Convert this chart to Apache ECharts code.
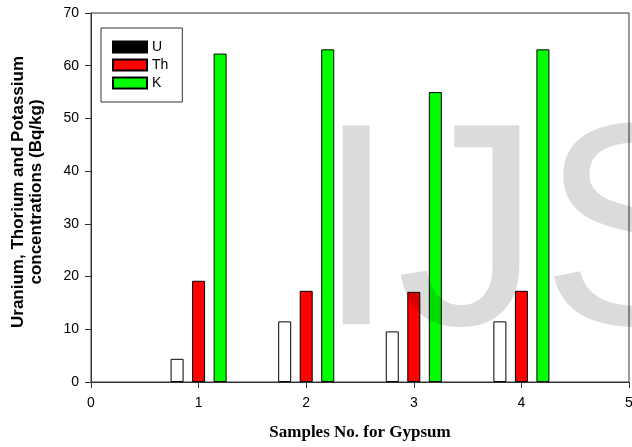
<!DOCTYPE html>
<html><head><meta charset="utf-8">
<script src="https://cdn.jsdelivr.net/npm/echarts@6/dist/echarts.min.js"></script>
<style>html,body{margin:0;padding:0;background:#fff}#c{width:632px;height:447px}</style>
</head><body><div id="c"></div>
<script>
const samples = [1, 2, 3, 4];
const uValues = [4.4, 11.5, 9.6, 11.5];
const thValues = [19.2, 17.3, 17.1, 17.3];
const kValues = [62.3, 63.1, 55.0, 63.1];
const xTicks = [0, 1, 2, 3, 4, 5];
const yTicks = [0, 10, 20, 30, 40, 50, 60, 70];
const offsets = {U: -0.2, Th: 0, K: 0.2};

const chart = echarts.init(document.getElementById('c'));
function mk(name, vals, color) {
  return {
    name: name, type: 'bar', barWidth: 13, barGap: '-100%',
    data: samples.map((s, i) => [s + offsets[name], vals[i]]),
    itemStyle: {color: color, borderColor: '#000', borderWidth: 1},
    z: 2
  };
}
const font = 'Liberation Sans, Arial, sans-serif';
chart.setOption({
  animation: false,
  grid: {left: 91, right: 3, top: 13, bottom: 65, show: true, borderColor: '#333', borderWidth: 1,
         outerBoundsMode: 'none', containLabel: false},
  legend: {
    left: 101, top: 28, orient: 'vertical', icon: 'rect', itemWidth: 34, itemHeight: 11, itemGap: 4,
    padding: [12, 14, 12, 11], borderColor: '#333', borderWidth: 1,
    textStyle: {fontFamily: font, fontSize: 14, color: '#000'},
    data: [
      {name: 'U', itemStyle: {color: '#000'}},
      {name: 'Th'},
      {name: 'K'}
    ]
  },
  xAxis: {
    type: 'value', min: xTicks[0], max: xTicks[xTicks.length - 1], interval: 1,
    splitLine: {show: false},
    axisLine: {lineStyle: {color: '#333'}},
    axisTick: {show: true, length: 6, lineStyle: {color: '#333'}},
    axisLabel: {fontFamily: font, fontSize: 14, color: '#000', margin: 14}
  },
  yAxis: {
    type: 'value', min: yTicks[0], max: yTicks[yTicks.length - 1], interval: 10,
    splitLine: {show: false},
    axisLine: {show: true, lineStyle: {color: '#333'}},
    axisTick: {show: true, length: 6, lineStyle: {color: '#333'}},
    axisLabel: {fontFamily: font, fontSize: 14, color: '#000', margin: 12}
  },
  series: [
    mk('U', uValues, '#ffffff'),
    mk('Th', thValues, '#ff0000'),
    mk('K', kValues, '#00ff00')
  ],
  graphic: [
    {type: 'text', left: 316, top: 100, z: 100, silent: true,
     style: {text: 'IJSER', font: '289px Liberation Sans, Arial, sans-serif', fill: 'rgba(0,0,0,0.14)'}},
    {type: 'text', x: 27, y: 192, rotation: Math.PI / 2,
     style: {text: 'Uranium, Thorium and Potassium\nconcentrations (Bq/kg)', font: 'bold 17px Liberation Sans, Arial, sans-serif',
             fill: '#000', align: 'center', verticalAlign: 'middle', lineHeight: 18}},
    {type: 'text', x: 360, y: 433,
     style: {text: 'Samples No. for Gypsum', font: 'bold 17px Liberation Serif, Times New Roman, serif',
             fill: '#000', align: 'center', verticalAlign: 'middle'}}
  ]
});
</script></body></html>
